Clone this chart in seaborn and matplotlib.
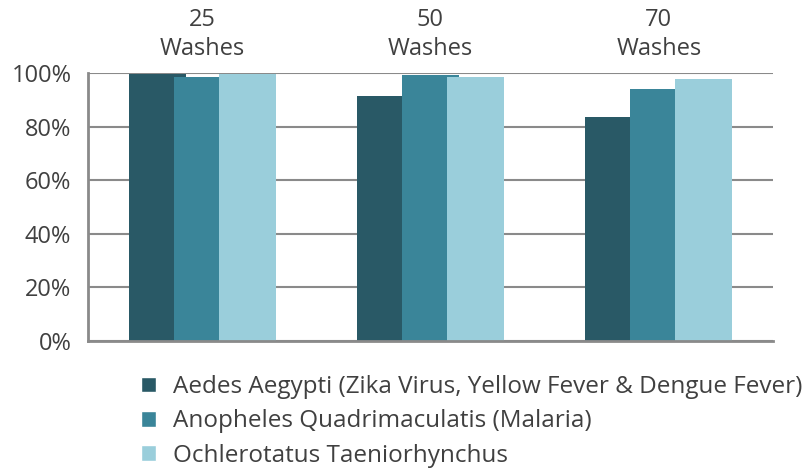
import pandas as pd
import numpy as np
import matplotlib
matplotlib.use("Agg")
import matplotlib.pyplot as plt
import seaborn as sns
from matplotlib.ticker import PercentFormatter

# data
washes = ["25\nWashes", "50\nWashes", "70\nWashes"]
species = [
    "Aedes Aegypti (Zika Virus, Yellow Fever & Dengue Fever)",
    "Anopheles Quadrimaculatis (Malaria)",
    "Ochlerotatus Taeniorhynchus",
]
aedes = [99.6, 91.4, 83.6]
anopheles = [98.5, 99.3, 94.0]
ochlerotatus = [99.6, 98.5, 97.8]

colors = ["#295966", "#3a8599", "#9acedb"]

df = pd.DataFrame({
    "washes": washes * 3,
    "species": [species[0]] * 3 + [species[1]] * 3 + [species[2]] * 3,
    "value": aedes + anopheles + ochlerotatus,
})

sns.set_style("white")
plt.rcParams["font.family"] = ["Open Sans", "DejaVu Sans"]
text_color = "#404040"
grid_color = "#8a8a8a"

fig = plt.figure(figsize=(8.03, 4.69), dpi=100)
ax = fig.add_axes([0.1096, 0.2729, 0.8530, 0.5714])

step = 0.197
sns.barplot(data=df, x="washes", y="value", hue="species", order=washes,
            hue_order=species, palette=colors, width=3 * step, gap=0,
            saturation=1, errorbar=None, ax=ax, legend=True)

# widen the bars so they overlap like the original
bar_w = 0.25
for p in ax.patches:
    if p.get_height() > 0 and p.get_width() < 0.5:
        c = p.get_x() + p.get_width() / 2
        p.set_x(c - bar_w / 2)
        p.set_width(bar_w)
        p.set_linewidth(0)

ax.set_xlim(-0.5, 2.5)
ax.set_ylim(0, 100)
ax.set_yticks([0, 20, 40, 60, 80, 100])
ax.yaxis.set_major_formatter(PercentFormatter(decimals=0))
ax.set_xlabel("")
ax.set_ylabel("")
ax.xaxis.tick_top()
ax.tick_params(axis="x", length=0, pad=9, labelsize=17, labelcolor=text_color)
ax.tick_params(axis="y", length=0, pad=12, labelsize=17, labelcolor=text_color)
for t in ax.get_xticklabels():
    t.set_linespacing(1.25)

ax.set_axisbelow(True)
ax.yaxis.grid(True, color=grid_color, linewidth=1.5)
ax.xaxis.grid(False)
for s in ["top", "right"]:
    ax.spines[s].set_visible(False)
for s in ["left", "bottom"]:
    ax.spines[s].set_color(grid_color)
    ax.spines[s].set_linewidth(2)

handles, labels = ax.get_legend_handles_labels()
ax.get_legend().remove()
fig.legend(handles, labels, loc="upper left", bbox_to_anchor=(0.1755, 0.2),
           frameon=False, fontsize=17.5, labelcolor=text_color,
           handlelength=0.6, handleheight=0.6, handletextpad=0.7,
           labelspacing=0.42, borderpad=0, borderaxespad=0)

fig.savefig("out.png", dpi=100)
